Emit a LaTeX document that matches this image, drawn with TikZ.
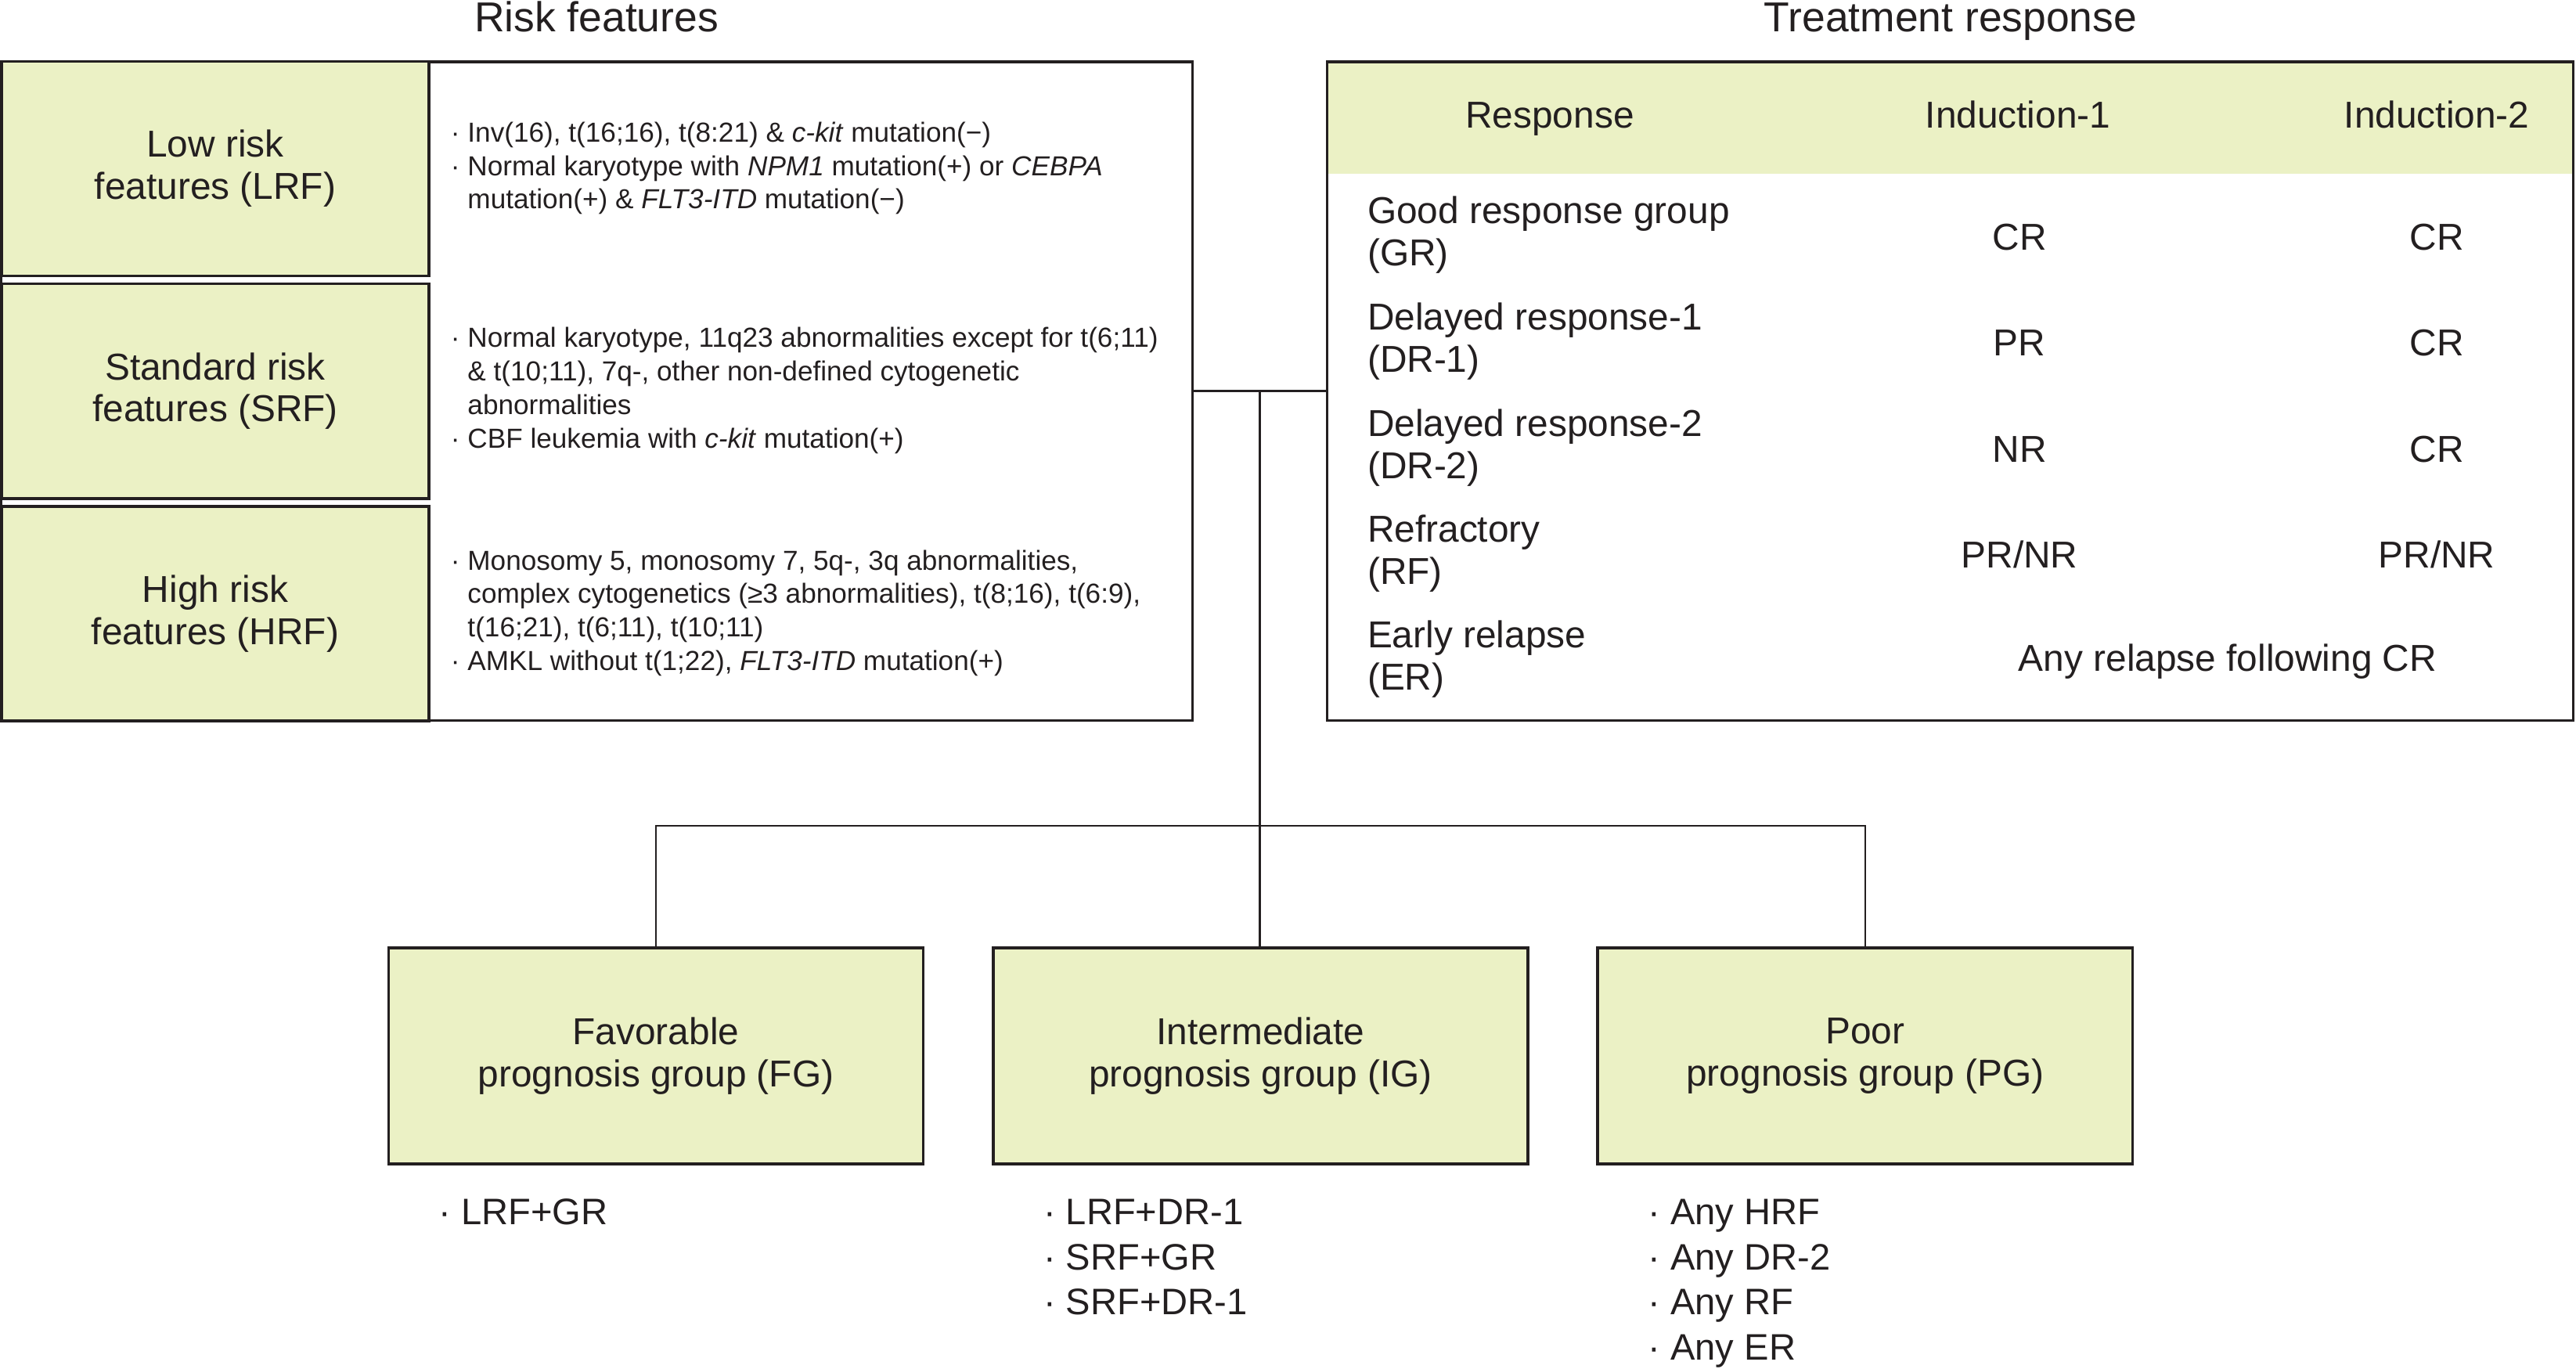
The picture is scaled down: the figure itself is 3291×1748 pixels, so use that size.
\documentclass[tikz,border=0pt]{standalone}
\usepackage{fontspec}
\setmainfont{Liberation Sans}
\usepackage{tikz}
\usetikzlibrary{positioning}

\definecolor{boxgreen}{RGB}{235,241,197}
\definecolor{ink}{RGB}{35,31,32}
\newcommand{\titlesize}{\fontsize{15.2}{18}\selectfont}
\newcommand{\mainsize}{\fontsize{13.6}{15.3}\selectfont}
\newcommand{\notesize}{\fontsize{10}{12.2}\selectfont}
\newcommand{\listsize}{\fontsize{13.4}{16.4}\selectfont}

\begin{document}
\begin{tikzpicture}[x=0.01cm,y=-0.01cm,color=ink,semithick,node distance=2.84cm,
		frame/.style={draw,line width=1pt,inner sep=0pt},
		riskcell/.style={frame,fill=boxgreen,minimum width=5.46cm,minimum height=2.74cm,align=center,font=\mainsize},
		groupbox/.style={frame,fill=boxgreen,minimum width=6.83cm,minimum height=2.76cm,align=center,font=\mainsize},
		heading/.style={anchor=base,font=\titlesize},
		colhead/.style={anchor=base,font=\mainsize},
		entry/.style={anchor=base,font=\mainsize},
		rowlabel/.style={anchor=west,align=left,inner sep=0pt,font=\mainsize},
		note/.style={inner sep=0pt,font=\notesize},
		crit/.style={inner sep=0pt,align=left,font=\listsize},
		link/.style={line width=0.7pt}]

	\useasboundingbox (0,0) rectangle (3291,1748);

	\node[heading] (risktitle) at (762,40) {Risk features};
	\node[heading] (resptitle) at (2492,40) {Treatment response};

	% risk features
	\node[frame,minimum width=15.21cm,minimum height=8.41cm] (riskbox) at (762.5,499.5) {};
	\node[riskcell] (lrf) at (275,215.5) {Low risk\\features (LRF)};
	\node[riskcell] (srf) [below of=lrf] {Standard risk\\features (SRF)};
	\node[riskcell] (hrf) [below of=srf] {High risk\\features (HRF)};

	\node[note,right=0.25cm of lrf] (lrfnote) {\begin{tabular}{@{}l@{~}l@{}}
		·&Inv(16), t(16;16), t(8:21) \& \textit{c-kit} mutation(−)\\
		·&Normal karyotype with \textit{NPM1} mutation(+) or \textit{CEBPA}\\
		&mutation(+) \& \textit{FLT3-ITD} mutation(−)
	\end{tabular}};
	\node[note,right=0.25cm of srf] (srfnote) {\begin{tabular}{@{}l@{~}l@{}}
		·&Normal karyotype, 11q23 abnormalities except for t(6;11)\\
		&\& t(10;11), 7q-, other non-defined cytogenetic\\
		&abnormalities\\
		·&CBF leukemia with \textit{c-kit} mutation(+)
	\end{tabular}};
	\node[note,right=0.25cm of hrf] (hrfnote) {\begin{tabular}{@{}l@{~}l@{}}
		·&Monosomy 5, monosomy 7, 5q-, 3q abnormalities,\\
		&complex cytogenetics (≥3 abnormalities), t(8;16), t(6:9),\\
		&t(16;21), t(6;11), t(10;11)\\
		·&AMKL without t(1;22), \textit{FLT3-ITD} mutation(+)
	\end{tabular}};

	% treatment response
	\node[fill=boxgreen,inner sep=0pt,minimum width=15.91cm,minimum height=1.43cm] (resphead) at (2491.5,150.5) {};
	\node[frame,minimum width=15.91cm,minimum height=8.41cm] (respbox) at (2491.5,499.5) {};

	\node[colhead] (hresp) at (1980,163) {Response};
	\node[colhead] (hind1) at (2578,163) {Induction-1};
	\node[colhead] (hind2) at (3113,163) {Induction-2};

	\node[rowlabel] (gr) at (1746,300) {Good response group\\(GR)};
	\node[rowlabel] (dr1) at (1746,436) {Delayed response-1\\(DR-1)};
	\node[rowlabel] (dr2) at (1746,572) {Delayed response-2\\(DR-2)};
	\node[rowlabel] (rf) at (1746,707) {Refractory\\(RF)};
	\node[rowlabel] (er) at (1746,842) {Early relapse\\(ER)};

	\node[entry] (grone) at (2580,319) {CR};
	\node[entry] (grtwo) at (3113,319) {CR};
	\node[entry] (drone) at (2580,454) {PR};
	\node[entry] (drtwo) at (3113,454) {CR};
	\node[entry] (dronebis) at (2580,590) {NR};
	\node[entry] (drtwobis) at (3113,590) {CR};
	\node[entry] (rfone) at (2580,725) {PR/NR};
	\node[entry] (rftwo) at (3113,725) {PR/NR};
	\node[entry] (erany) at (2846,857) {Any relapse following CR};

	% prognosis groups
	\node[groupbox] (fg) at (838,1349) {Favorable\\prognosis group (FG)};
	\node[groupbox] (ig) [right of=fg,node distance=7.72cm] {Intermediate\\prognosis group (IG)};
	\node[groupbox] (pg) [right of=ig,node distance=7.72cm] {Poor\\prognosis group (PG)};

	\node[crit,below right=0.42cm and 0.65cm of fg.south west] (fglist) {· LRF+GR};
	\node[crit,below right=0.42cm and 0.65cm of ig.south west] (iglist) {· LRF+DR-1\\· SRF+GR\\· SRF+DR-1};
	\node[crit,below right=0.42cm and 0.65cm of pg.south west] (pglist) {· Any HRF\\· Any DR-2\\· Any RF\\· Any ER};

	\draw[link] (riskbox.east) -- (respbox.west) coordinate[pos=0.5] (hub);
	\draw[link] (hub) -- (hub |- ig.north);
	\draw[link] (fg.north) -- ++(0,-154) -| (pg.north);
\end{tikzpicture}
\end{document}
